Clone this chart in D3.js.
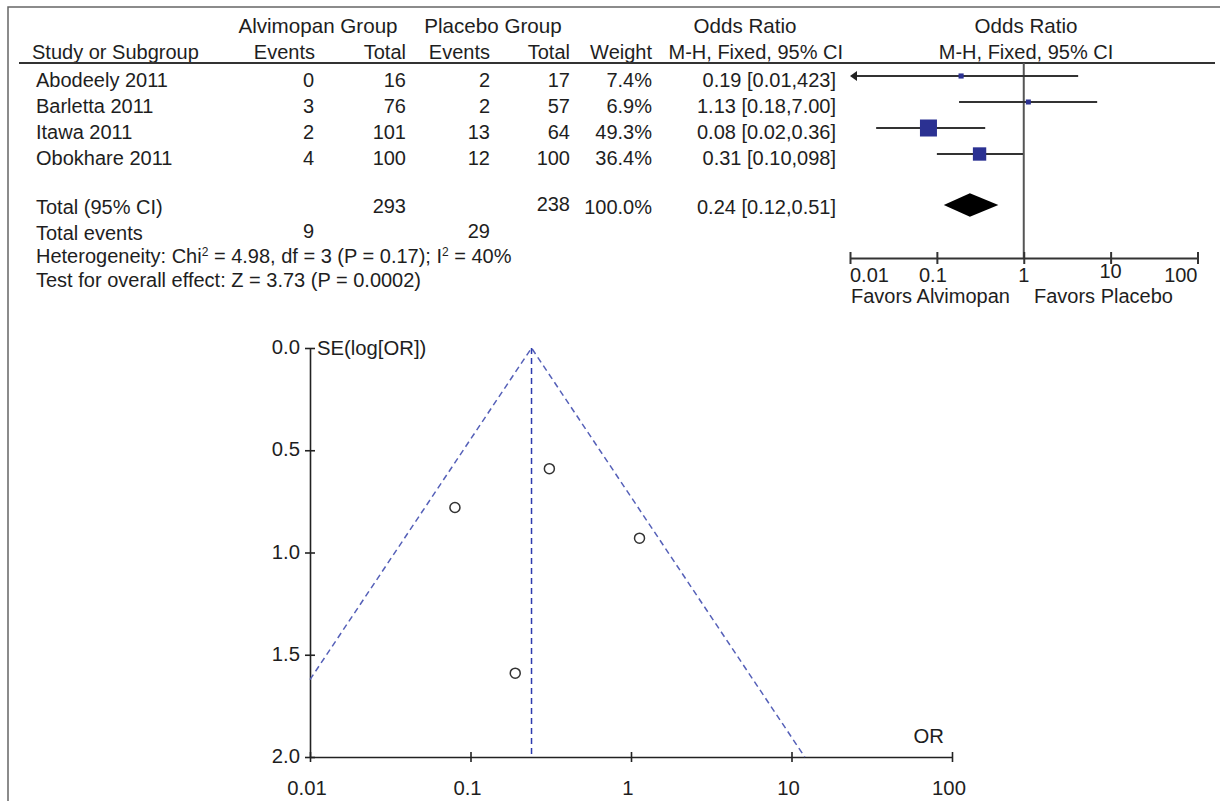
<!DOCTYPE html>
<html>
<head>
<meta charset="utf-8">
<script src="https://cdn.jsdelivr.net/npm/d3@7"></script>
<style>
    body { margin: 0; background: #fff; }
    svg text { font-family: "Liberation Sans", Arial, Helvetica, sans-serif; fill: #1e1e1e; }
</style>
</head>
<body>
<div id="chart"></div>
<script>
// study rows
var studies = ["Abodeely 2011", "Barletta 2011", "Itawa 2011", "Obokhare 2011"];
var alviEvents = [0, 3, 2, 4];
var alviTotal = [16, 76, 101, 100];
var placEvents = [2, 2, 13, 12];
var placTotal = [17, 57, 64, 100];
var weights = [7.4, 6.9, 49.3, 36.4];
var orValue = [0.19, 1.13, 0.08, 0.31];
var ciLow = [0.01, 0.18, 0.02, 0.10];
var ciHigh = [4.23, 7.00, 0.36, 0.98];
// text exactly as printed in the figure
var ciText = ["0.19 [0.01,423]", "1.13 [0.18,7.00]", "0.08 [0.02,0.36]", "0.31 [0.10,098]"];

// totals
var totalOr = [0.24, 0.12, 0.51]; // OR, low, high
var totalText = ["Total (95% CI)", "293", "238", "100.0%", "0.24 [0.12,0.51]"];
var totalEvents = [9, 29];

// funnel plot: SE(log[OR]) per study
var funnelSE = [1.59, 0.93, 0.78, 0.59];

// tick labels
var forestTicks = [0.01, 0.1, 1, 10, 100];
var funnelXTicks = [0.01, 0.1, 1, 10, 100];
var funnelYTicks = [0, 0.5, 1, 1.5, 2];

var W = 1220, H = 801;
var FS = 20;
var ink = "#333";

var svg = d3.select("#chart").append("svg")
    .attr("width", W)
    .attr("height", H);

// outer frame (top + left edge of the scan)
svg.append("path")
    .attr("d", "M8," + H + "V7H" + W)
    .attr("fill", "none")
    .attr("stroke", "#666")
    .attr("stroke-width", 1.5);

/****
 * table columns (right aligned)
 */
var col = {evA: 314, totA: 406, evP: 490, totP: 570, wt: 652, ci: 836};

function txt(x, y, s, anchor, size) {
    return svg.append("text")
        .attr("x", x)
        .attr("y", y)
        .attr("text-anchor", anchor || "end")
        .style("font-size", (size || FS) + "px")
        .text(s);
}

// header
txt(318, 33, "Alvimopan Group", "middle", 20.6);
txt(493, 33, "Placebo Group", "middle", 20.6);
txt(745, 33, "Odds Ratio", "middle", 20.6);
txt(1026, 33, "Odds Ratio", "middle", 20.6);
txt(32, 59, "Study or Subgroup", "start");
txt(col.evA + 1, 59, "Events");
txt(col.totA, 59, "Total");
txt(col.evP, 59, "Events");
txt(col.totP, 59, "Total");
txt(col.wt, 59, "Weight");
txt(843, 59, "M-H, Fixed, 95% CI");
txt(1026, 59, "M-H, Fixed, 95% CI", "middle");

svg.append("line")
    .attr("x1", 19).attr("x2", 1215)
    .attr("y1", 63).attr("y2", 63)
    .attr("stroke", ink)
    .attr("stroke-width", 2);

// row positions
var rowY = d3.scalePoint().domain(studies).range([76, 154]);

studies.forEach(function (s, i) {
    var y = rowY(s) + 11;
    txt(36, y, s, "start");
    txt(col.evA, y, alviEvents[i]);
    txt(col.totA, y, alviTotal[i]);
    txt(col.evP, y, placEvents[i]);
    txt(col.totP, y, placTotal[i]);
    txt(col.wt, y, weights[i].toFixed(1) + "%");
    txt(col.ci, y, ciText[i]);
});

// total rows
txt(36, 214, totalText[0], "start");
txt(col.totA, 213, totalText[1]);
txt(col.totP, 211, totalText[2]);
txt(col.wt, 214, totalText[3]);
txt(col.ci, 214, totalText[4]);

txt(36, 240, "Total events", "start");
txt(col.evA, 238, totalEvents[0]);
txt(col.evP, 238, totalEvents[1]);

var het = txt(36, 263, "", "start");
het.append("tspan").text("Heterogeneity: Chi");
het.append("tspan").attr("dy", -7).style("font-size", "12px").text("2");
het.append("tspan").attr("dy", 7).text(" = 4.98, df = 3 (P = 0.17); I");
het.append("tspan").attr("dy", -7).style("font-size", "12px").text("2");
het.append("tspan").attr("dy", 7).text(" = 40%");

txt(36, 287, "Test for overall effect: Z = 3.73 (P = 0.0002)", "start");

/****
 * forest plot
 */
var fx = d3.scaleLog().domain([0.01, 100]).range([850, 1197.5]);
var fAxisY = 258;
var boxSize = d3.scaleLinear().domain([6.9, 49.3]).range([5, 17]);
var squareColor = "#2b3192";

// line of no effect
svg.append("line")
    .attr("x1", fx(1)).attr("x2", fx(1))
    .attr("y1", 63).attr("y2", fAxisY)
    .attr("stroke", "#555")
    .attr("stroke-width", 2);

var rows = svg.append("g").selectAll("g")
    .data(studies)
    .enter().append("g");

rows.append("line")
    .attr("x1", function (d, i) { return ciLow[i] <= 0.01 ? fx(0.01) + 4 : fx(ciLow[i]); })
    .attr("x2", function (d, i) { return fx(ciHigh[i]); })
    .attr("y1", function (d) { return rowY(d); })
    .attr("y2", function (d) { return rowY(d); })
    .attr("stroke", "#333")
    .attr("stroke-width", 2.2);

// arrow for a CI that runs off the left of the scale
rows.filter(function (d, i) { return ciLow[i] <= 0.01; })
    .append("path")
    .attr("d", function (d) {
        var x = fx(0.01), y = rowY(d);
        return "M" + x + "," + y + "L" + (x + 7) + "," + (y - 5) + "L" + (x + 7) + "," + (y + 5) + "Z";
    })
    .attr("fill", "#222");

rows.append("rect")
    .attr("x", function (d, i) { return fx(orValue[i]) - boxSize(weights[i]) / 2; })
    .attr("y", function (d, i) { return rowY(d) - boxSize(weights[i]) / 2; })
    .attr("width", function (d, i) { return boxSize(weights[i]); })
    .attr("height", function (d, i) { return boxSize(weights[i]); })
    .attr("fill", squareColor);

// pooled diamond
var dy = 205, dh = 11.7;
svg.append("path")
    .attr("d", "M" + fx(totalOr[1]) + "," + dy +
        "L" + fx(totalOr[0]) + "," + (dy - dh) +
        "L" + fx(totalOr[2]) + "," + dy +
        "L" + fx(totalOr[0]) + "," + (dy + dh) + "Z")
    .attr("fill", "#000");

// axis
var fAxis = svg.append("g")
    .attr("transform", "translate(0," + fAxisY + ")")
    .call(d3.axisBottom(fx).tickValues(forestTicks).tickSize(6).tickSizeOuter(0).tickFormat(""));
fAxis.select(".domain").attr("stroke", ink).attr("stroke-width", 2);
fAxis.selectAll(".tick line").attr("y1", -6).attr("y2", 6).attr("stroke", ink).attr("stroke-width", 2);

var fAnchor = ["start", "middle", "middle", "middle", "end"];
var fShift = [0, -4, 0, 0, 0];
forestTicks.forEach(function (t, i) {
    txt(fx(t) + fShift[i], i === 3 ? 278 : 282, t, fAnchor[i]);
});
txt(851, 303, "Favors Alvimopan", "start");
txt(1034, 303, "Favors Placebo", "start");

/****
 * funnel plot
 */
var nx = d3.scaleLog().domain([0.01, 100]).range([310, 952]);
var ny = d3.scaleLinear().domain([0, 2]).range([348, 757]);
var FS2 = 20.3;

var xAx = svg.append("g")
    .attr("transform", "translate(0," + ny(2) + ")")
    .call(d3.axisBottom(nx).tickValues(funnelXTicks).tickSize(5).tickSizeOuter(0).tickFormat(""));
xAx.select(".domain").attr("stroke", "#222").attr("stroke-width", 1.6);
xAx.selectAll(".tick line").attr("y1", -5).attr("y2", 5).attr("stroke", "#222").attr("stroke-width", 1.6);

var yAx = svg.append("g")
    .attr("transform", "translate(" + nx(0.01) + ",0)")
    .call(d3.axisLeft(ny).tickValues(funnelYTicks).tickSize(5).tickSizeOuter(0).tickFormat(""));
yAx.select(".domain").attr("stroke", "#222").attr("stroke-width", 1.6);
yAx.selectAll(".tick line").attr("x1", -5).attr("x2", 5).attr("stroke", "#222").attr("stroke-width", 1.6);

funnelXTicks.forEach(function (t) {
    txt(nx(t) - 3, 795, t, "middle", FS2);
});
funnelYTicks.forEach(function (t) {
    txt(nx(0.01) - 10, ny(t) + 6, d3.format(".1f")(t), "end", FS2);
});
txt(nx(0.01) + 7, ny(0) + 7, "SE(log[OR])", "start", FS2);
txt(nx(100) - 8, ny(2) - 14, "OR", "end", FS2);

// pseudo 95% confidence limits around the pooled OR
var lnP = Math.log(totalOr[0]);
var seLeft = (lnP - Math.log(0.01)) / 1.96;
var seRight = 2;
var funnelLine = d3.line()
    .x(function (d) { return nx(d[0]); })
    .y(function (d) { return ny(d[1]); });

svg.append("path")
    .attr("d", funnelLine([[Math.exp(lnP - 1.96 * seLeft), seLeft], [totalOr[0], 0], [Math.exp(lnP + 1.96 * seRight), seRight]]))
    .attr("fill", "none")
    .attr("stroke", "#5560b8")
    .attr("stroke-width", 1.5)
    .attr("stroke-dasharray", "6,4");

svg.append("line")
    .attr("x1", nx(totalOr[0])).attr("x2", nx(totalOr[0]))
    .attr("y1", ny(0)).attr("y2", ny(2))
    .attr("stroke", "#2e3cae")
    .attr("stroke-width", 1.5)
    .attr("stroke-dasharray", "6,4");

svg.append("g").selectAll("circle")
    .data(studies)
    .enter().append("circle")
    .attr("cx", function (d, i) { return nx(orValue[i]); })
    .attr("cy", function (d, i) { return ny(funnelSE[i]); })
    .attr("r", 5)
    .attr("fill", "none")
    .attr("stroke", "#333")
    .attr("stroke-width", 1.5);
</script>
</body>
</html>
